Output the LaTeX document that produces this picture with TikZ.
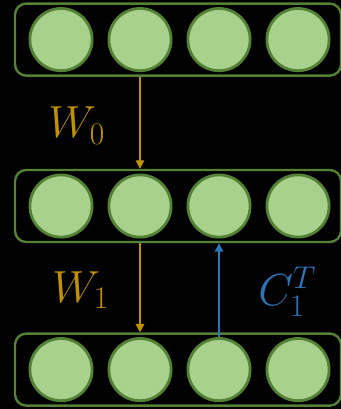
\RequirePackage{fix-cm}
\documentclass[tikz,border=0pt]{standalone}
\usepackage{xcolor}
\usetikzlibrary{arrows.meta}
\definecolor{nodefill}{HTML}{A9D18E}
\definecolor{nodeline}{HTML}{548235}
\definecolor{wcolor}{HTML}{BF9000}
\definecolor{ccolor}{HTML}{2E75B6}

\begin{document}
\begin{tikzpicture}[>={Triangle[length=6pt,width=6pt]},
layer/.style={draw=nodeline,line width=1.7pt,rounded corners=8pt,minimum width=8.15cm,minimum height=1.8cm},
neuron/.style={circle,draw=nodeline,line width=2pt,fill=nodefill,minimum size=1.555cm,inner sep=0pt},
lab/.style={font=\fontsize{32}{38}\selectfont,anchor=base west,inner sep=0pt}]
\fill[black](0,0)rectangle(8.525,-10.225);
\useasboundingbox(0,0)rectangle(8.525,-10.225);
% three layers of four units
\foreach \r/\y in {0/-0.99,1/-5.15,2/-9.24}{
\node[layer](L\r)at(4.45,\y){};
\foreach \i in {1,...,4}
\node[neuron](n\r\i)at({1.525+1.975*(\i-1)},\y){};
}
\draw[->,wcolor,line width=1.1pt](n02|-L0.south)--(n12|-L1.north);
\draw[->,wcolor,line width=1.1pt](n12|-L1.south)--(n22|-L2.north);
\draw[->,ccolor,line width=1.1pt](n23.north)--(n23|-L1.south);
\node[lab,wcolor](w0)at(1.2,-3.45){$W_0$};
\node[lab,wcolor](w1)at(1.3,-7.55){$W_1$};
\node[lab,ccolor](c1)at(6.45,-7.625){$C_1^T$};
\end{tikzpicture}
\end{document}
